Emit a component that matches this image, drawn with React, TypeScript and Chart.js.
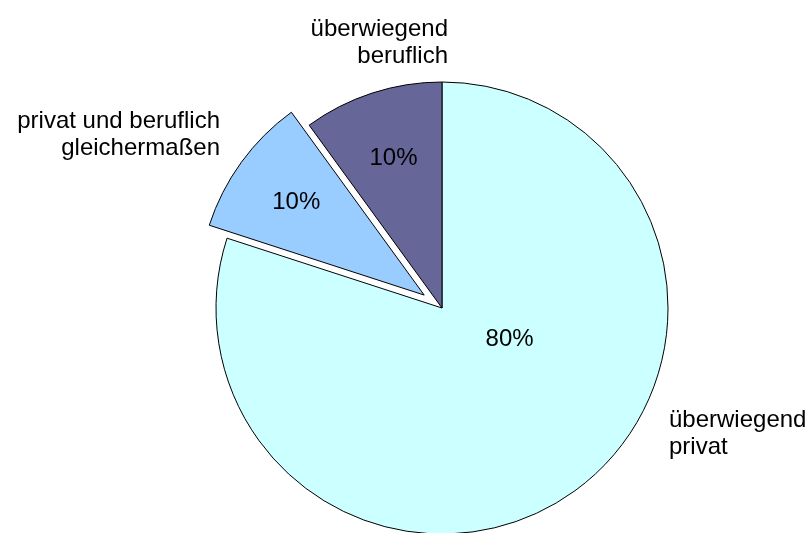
import React, { useEffect, useRef } from 'react';
import { Chart, registerables } from 'chart.js';

Chart.register(...registerables);

// ---- data ----
const categories = ['überwiegend privat', 'privat und beruflich gleichermaßen', 'überwiegend beruflich'];
const categoryLines = [
  ['überwiegend', 'privat'],
  ['privat und beruflich', 'gleichermaßen'],
  ['überwiegend', 'beruflich'],
];
const shares = [80, 10, 10];
const percentLabels = ['80%', '10%', '10%'];

// ---- style / layout ----
const colors = ['#CCFFFF', '#99CCFF', '#666699'];
const explodePx = [0, 22, 0];
const FONT = '24px "Liberation Sans", Arial, sans-serif';
const LINE_H = 27;
// percent label placement: polar position (relative to slice center), angle in degrees (null = mid angle)
const pctPlacement = [
  { angle: 25, r: 0.33 },
  { angle: null, r: 0.7 },
  { angle: null, r: 0.695 },
];
// category label anchors relative to pie center (px), first baseline
const catPlacement = [
  { dx: 227, dy: 119, align: 'left' },
  { dx: -222, dy: -180, align: 'right' },
  { dx: 6, dy: -272, align: 'right' },
];

const piePlugin = {
  id: 'excelPie',
  beforeDatasetsDraw(chart: any) {
    const ctx = chart.ctx;
    const meta = chart.getDatasetMeta(0);
    meta.data.forEach((arc: any, i: number) => {
      const { startAngle, endAngle } = arc.getProps(['startAngle', 'endAngle'], true);
      const mid = (startAngle + endAngle) / 2;
      ctx.save();
      ctx.translate(Math.cos(mid) * explodePx[i], Math.sin(mid) * explodePx[i]);
      arc.draw(ctx, chart.chartArea);
      ctx.restore();
    });
    return false;
  },
  afterDraw(chart: any) {
    const ctx = chart.ctx;
    const meta = chart.getDatasetMeta(0);
    ctx.save();
    ctx.font = FONT;
    ctx.fillStyle = '#000';
    meta.data.forEach((arc: any, i: number) => {
      const { x, y, startAngle, endAngle, outerRadius } = arc.getProps(
        ['x', 'y', 'startAngle', 'endAngle', 'outerRadius'],
        true
      );
      const mid = (startAngle + endAngle) / 2;
      const ex = Math.cos(mid) * explodePx[i];
      const ey = Math.sin(mid) * explodePx[i];
      const p = pctPlacement[i];
      const a = p.angle === null ? mid : (p.angle * Math.PI) / 180;
      ctx.textAlign = 'center';
      ctx.textBaseline = 'middle';
      ctx.fillText(percentLabels[i], x + ex + Math.cos(a) * p.r * outerRadius, y + ey + Math.sin(a) * p.r * outerRadius);

      const c = catPlacement[i];
      ctx.textAlign = c.align;
      ctx.textBaseline = 'alphabetic';
      categoryLines[i].forEach((line, k) => {
        ctx.fillText(line, x + c.dx, y + c.dy + k * LINE_H);
      });
    });
    ctx.restore();
  },
};

export default function App() {
  const ref = useRef<HTMLCanvasElement | null>(null);
  useEffect(() => {
    if (!ref.current) return;
    const chart = new Chart(ref.current, {
      type: 'pie',
      data: {
        labels: categories,
        datasets: [
          {
            data: shares,
            backgroundColor: colors,
            borderColor: '#000000',
            borderWidth: 1,
          },
        ],
      },
      options: {
        responsive: false,
        animation: false,
        events: [],
        radius: 226,
        layout: { padding: { left: 75, right: 0, top: 83, bottom: 0 } },
        plugins: {
          legend: { display: false },
          tooltip: { enabled: false },
        },
      },
      plugins: [piePlugin],
    });
    return () => chart.destroy();
  }, []);
  return (
    <div style={{ position: 'fixed', left: 0, top: 0, width: 809, height: 533, background: '#fff' }}>
      <canvas ref={ref} width={809} height={533} style={{ display: 'block' }} />
    </div>
  );
}
